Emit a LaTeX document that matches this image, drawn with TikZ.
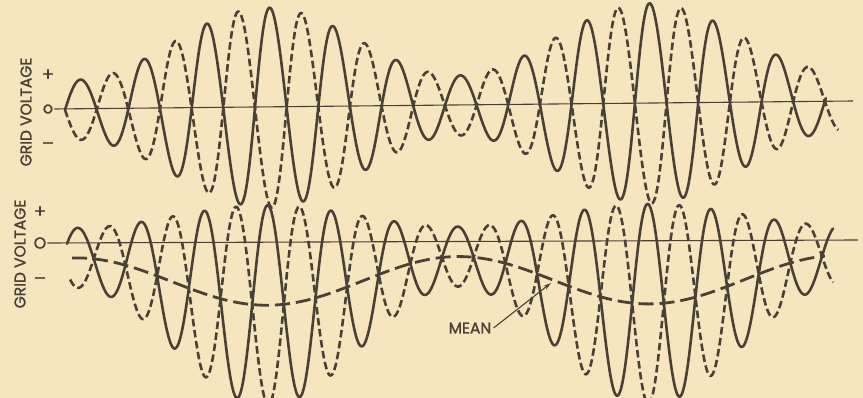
\documentclass[tikz,border=0pt]{standalone}
\usepackage{fontspec}
\setmainfont{Poppins}
\newfontfamily\gridfont{Poppins}[FakeBold=1.4]
\usetikzlibrary{arrows.meta}

\definecolor{paper}{RGB}{246,230,192}
\definecolor{ink}{RGB}{74,64,54}

\begin{document}
\begin{tikzpicture}[
    x=1pt, y=-1pt,
    % Envolvente, caida media y portadora (en px de la figura)
    declare function={
      env(\x)=(1-cos((\x-76)/382*360))/2;
      amp(\x)=30+70*env(\x);
      drop(\x)=15+48*env(\x);
      carA(\x)=sin((\x-65)/63.33*360);
      carB(\x)=sin((\x-62)/63.33*360);
    },
    % Estilos de las curvas y textos
    wave/.style={draw=ink, line width=2.6pt, line join=round, line cap=round},
    dwave/.style={wave, dash pattern=on 7.5pt off 3.6pt, line cap=butt},
    meanline/.style={draw=ink, line width=2.8pt, dash pattern=on 15pt off 6pt},
    axisline/.style={draw=ink, line width=1.1pt},
    lbl/.style={text=ink, font=\gridfont\fontsize{15.5}{18}\selectfont, inner sep=0pt},
    sign/.style={text=ink, font=\gridfont\fontsize{18}{20}\selectfont, inner sep=1pt}
]

% ---------------------------------------------------------
% 0. FONDO Y MARCO
% ---------------------------------------------------------
\fill[paper] (0,0) rectangle (863,398);
\useasboundingbox (0,0) rectangle (863,398);
\clip (0,0) rectangle (863,398);

% ---------------------------------------------------------
% 1. ROTULOS (Ejes de tension de rejilla)
% ---------------------------------------------------------
\node[lbl, rotate=90] (gvtop) at (26,112) {GRID VOLTAGE};
\node[sign] (plustop) at (48,75) {+};
\node[sign, font=\gridfont\fontsize{16}{18}\selectfont] (zerotop) at (48,109) {o};
\node[sign] (minustop) at (48,146) {–};

\node[lbl, rotate=90] (gvbot) at (20,254) {GRID VOLTAGE};
\node[sign] (plusbot) at (40,212) {+};
\node[sign, font=\gridfont\fontsize{16}{18}\selectfont] (zerobot) at (40,243) {O};
\node[sign] (minusbot) at (40,281) {–};

\coordinate (topend) at (853,101);
\coordinate (botend) at (858,240);

\draw[axisline] (zerotop.east) -- (topend);
\draw[axisline] (zerobot.east) -- (botend);

% ---------------------------------------------------------
% 2. ONDAS SUPERIORES (Sin componente media)
% ---------------------------------------------------------
\begin{scope}[rotate around={0.65:(58,110)}]
  \draw[wave] plot[domain=65:826, samples=800, smooth] (\x, {110 - amp(\x)*carA(\x)});
  \draw[dwave] plot[domain=65:838, samples=800, smooth] (\x, {110 + amp(\x)*carA(\x)});
\end{scope}

% ---------------------------------------------------------
% 3. ONDAS INFERIORES (Con valor medio desplazado)
% ---------------------------------------------------------
\begin{scope}[rotate around={0.2:(48,243)}]
  \draw[wave] plot[domain=67:833, samples=800, smooth] (\x, {243 + drop(\x) - amp(\x)*carB(\x)});
  \draw[dwave] plot[domain=70:833, samples=800, smooth] (\x, {243 + drop(\x) + amp(\x)*carB(\x)});
  \draw[meanline] plot[domain=72:825, samples=300, smooth] (\x, {243 + drop(\x)});
\end{scope}

% Etiqueta del valor medio
\node[lbl] (mean) at (470,328) {MEAN};
\coordinate (meantip) at (551,283);
\draw[ink, line width=1.1pt, -{Stealth[length=8pt, width=4.5pt]}] ([xshift=2pt]mean.east) -- (meantip);

\end{tikzpicture}
\end{document}
